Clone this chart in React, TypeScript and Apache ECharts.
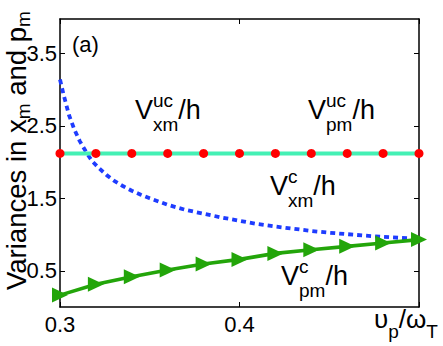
import React, { useEffect, useRef } from 'react';
import * as echarts from 'echarts';

const FONT = '"Liberation Sans", Arial, Helvetica, sans-serif';

// marker abscissae (upsilon_p / omega_T)
const X_MARK = [0.3, 0.32, 0.34, 0.36, 0.38, 0.4, 0.42, 0.44, 0.46, 0.48, 0.5];
// uncoupled variances (same for x_m and p_m)
const V_UC = [2.12, 2.12, 2.12, 2.12, 2.12, 2.12, 2.12, 2.12, 2.12, 2.12, 2.12];
// coupled variance in p_m
const V_PM_C = [0.164, 0.315, 0.417, 0.51, 0.593, 0.657, 0.74, 0.79, 0.837, 0.883, 0.93];
// coupled variance in x_m (finer sampling)
const X_FINE = [0.3, 0.302, 0.305, 0.308, 0.311, 0.315, 0.318, 0.322, 0.326, 0.33, 0.335, 0.34, 0.345, 0.35, 0.355, 0.36, 0.365, 0.37, 0.38, 0.39, 0.4, 0.41, 0.42, 0.43, 0.44, 0.45, 0.46, 0.47, 0.48, 0.49, 0.5];
const V_XM_C = [3.14, 2.93, 2.65, 2.45, 2.29, 2.12, 2.01, 1.91, 1.82, 1.745, 1.67, 1.605, 1.55, 1.5, 1.455, 1.41, 1.375, 1.34, 1.288, 1.235, 1.19, 1.145, 1.11, 1.08, 1.05, 1.025, 1.005, 0.985, 0.968, 0.953, 0.94];

const X_TICKS = [0.3, 0.4, 0.5];
const X_TICK_LABELS = [0.3, 0.4];
const Y_TICKS = [0.5, 1.5, 2.5, 3.5];

let ctx2d: CanvasRenderingContext2D | null = null;
function textWidth(t: string, size: number): number {
  if (!ctx2d) ctx2d = document.createElement('canvas').getContext('2d');
  if (!ctx2d) return t.length * size * 0.55;
  ctx2d.font = `${size}px ${FONT}`;
  return ctx2d.measureText(t).width;
}

function piece(x: number, base: number, text: string, size: number) {
  return {
    type: 'text',
    x,
    y: base - 0.35 * size,
    style: { text, fontSize: size, fontFamily: FONT, fill: '#000', align: 'left', verticalAlign: 'middle' },
  };
}

type Seg = { t: string; sup?: string; sub?: string };

function mathText(segs: Seg[], x: number, y: number, big: number, small: number, supUp: number, subDown: number, rotation = 0) {
  const children: any[] = [];
  let cx = 0;
  for (const s of segs) {
    children.push(piece(cx, 0, s.t, big));
    cx += textWidth(s.t, big);
    let w = 0;
    if (s.sup) {
      children.push(piece(cx, -supUp, s.sup, small));
      w = Math.max(w, textWidth(s.sup, small));
    }
    if (s.sub) {
      children.push(piece(cx, subDown, s.sub, small));
      w = Math.max(w, textWidth(s.sub, small));
    }
    cx += w;
  }
  return { type: 'group', x, y, rotation, children };
}

export default function App() {
  const ref = useRef<HTMLDivElement>(null);
  useEffect(() => {
    if (!ref.current) return;
    const chart = echarts.init(ref.current, undefined, { renderer: 'svg' });
    const axisLine = { show: true, onZero: false, lineStyle: { color: '#000', width: 1.5 } };
    const tickStyle = { color: '#000', width: 1 };
    const option: any = {
      animation: false,
      grid: { left: 60, right: 24, top: 19, bottom: 39 },
      xAxis: [
        {
          type: 'value', min: 0.3, max: 0.5, interval: 0.1, position: 'bottom',
          axisLine,
          axisTick: { show: true, inside: true, length: 5, customValues: X_TICKS, lineStyle: tickStyle },
          axisLabel: { customValues: X_TICK_LABELS, formatter: (v: number) => v.toFixed(1), fontSize: 22, fontFamily: FONT, color: '#000', margin: 6 },
          splitLine: { show: false },
        },
        {
          type: 'value', min: 0.3, max: 0.5, interval: 0.1, position: 'top',
          axisLine,
          axisTick: { show: true, inside: true, length: 5, customValues: X_TICKS, lineStyle: tickStyle },
          axisLabel: { show: false },
          splitLine: { show: false },
        },
      ],
      yAxis: [
        {
          type: 'value', min: 0, max: 3.975, position: 'left',
          axisLine,
          axisTick: { show: true, inside: true, length: 5, customValues: Y_TICKS, lineStyle: tickStyle },
          axisLabel: { customValues: Y_TICKS, formatter: (v: number) => v.toFixed(1), fontSize: 22, fontFamily: FONT, color: '#000', margin: 3 },
          splitLine: { show: false },
        },
        {
          type: 'value', min: 0, max: 3.975, position: 'right',
          axisLine,
          axisTick: { show: true, inside: true, length: 5, customValues: Y_TICKS, lineStyle: tickStyle },
          axisLabel: { show: false },
          splitLine: { show: false },
        },
      ],
      series: [
        {
          type: 'line',
          data: X_FINE.map((x, i) => [x, V_XM_C[i]]),
          showSymbol: false,
          symbol: 'none',
          clip: false,
          lineStyle: { color: '#1E3CFF', width: 3.8, type: [5, 4], cap: 'butt' },
          z: 3,
        },
        {
          type: 'line',
          data: X_MARK.map((x, i) => [x, V_UC[i]]),
          symbol: 'circle',
          symbolSize: 9,
          showSymbol: true,
          clip: false,
          itemStyle: { color: '#FF0000', borderWidth: 0 },
          lineStyle: { color: '#44F0B4', width: 4 },
          z: 4,
        },
        {
          type: 'line',
          data: X_MARK.map((x, i) => [x, V_PM_C[i]]),
          symbol: 'triangle',
          symbolRotate: -90,
          symbolSize: [15, 16],
          showSymbol: true,
          clip: false,
          itemStyle: { color: '#23A50A', borderWidth: 0 },
          lineStyle: { color: '#23A50A', width: 3.6 },
          z: 5,
        },
      ],
      graphic: [
        piece(72, 52, '(a)', 22),
        mathText([{ t: 'V', sup: 'uc', sub: 'xm' }, { t: '/h' }], 135, 119, 27, 19, 12, 12),
        mathText([{ t: 'V', sup: 'uc', sub: 'pm' }, { t: '/h' }], 308, 119, 27, 19, 12, 12),
        mathText([{ t: 'V', sup: 'c', sub: 'xm' }, { t: '/h' }], 270, 195, 27, 19, 12, 12),
        mathText([{ t: 'V', sup: 'c', sub: 'pm' }, { t: '/h' }], 281, 285, 27, 19, 12, 12),
        mathText([{ t: 'υ', sub: 'p' }, { t: '/ω', sub: 'T' }], 374, 328, 26, 19, 12, 10),
        mathText([{ t: 'Variances in x', sub: 'm' }, { t: ' and p', sub: 'm' }], 26, 290, 27.5, 19, 12, 4, Math.PI / 2),
      ],
    };
    chart.setOption(option);
    return () => chart.dispose();
  }, []);
  return <div ref={ref} style={{ position: 'absolute', left: 0, top: 0, width: 443, height: 346 }} />;
}
